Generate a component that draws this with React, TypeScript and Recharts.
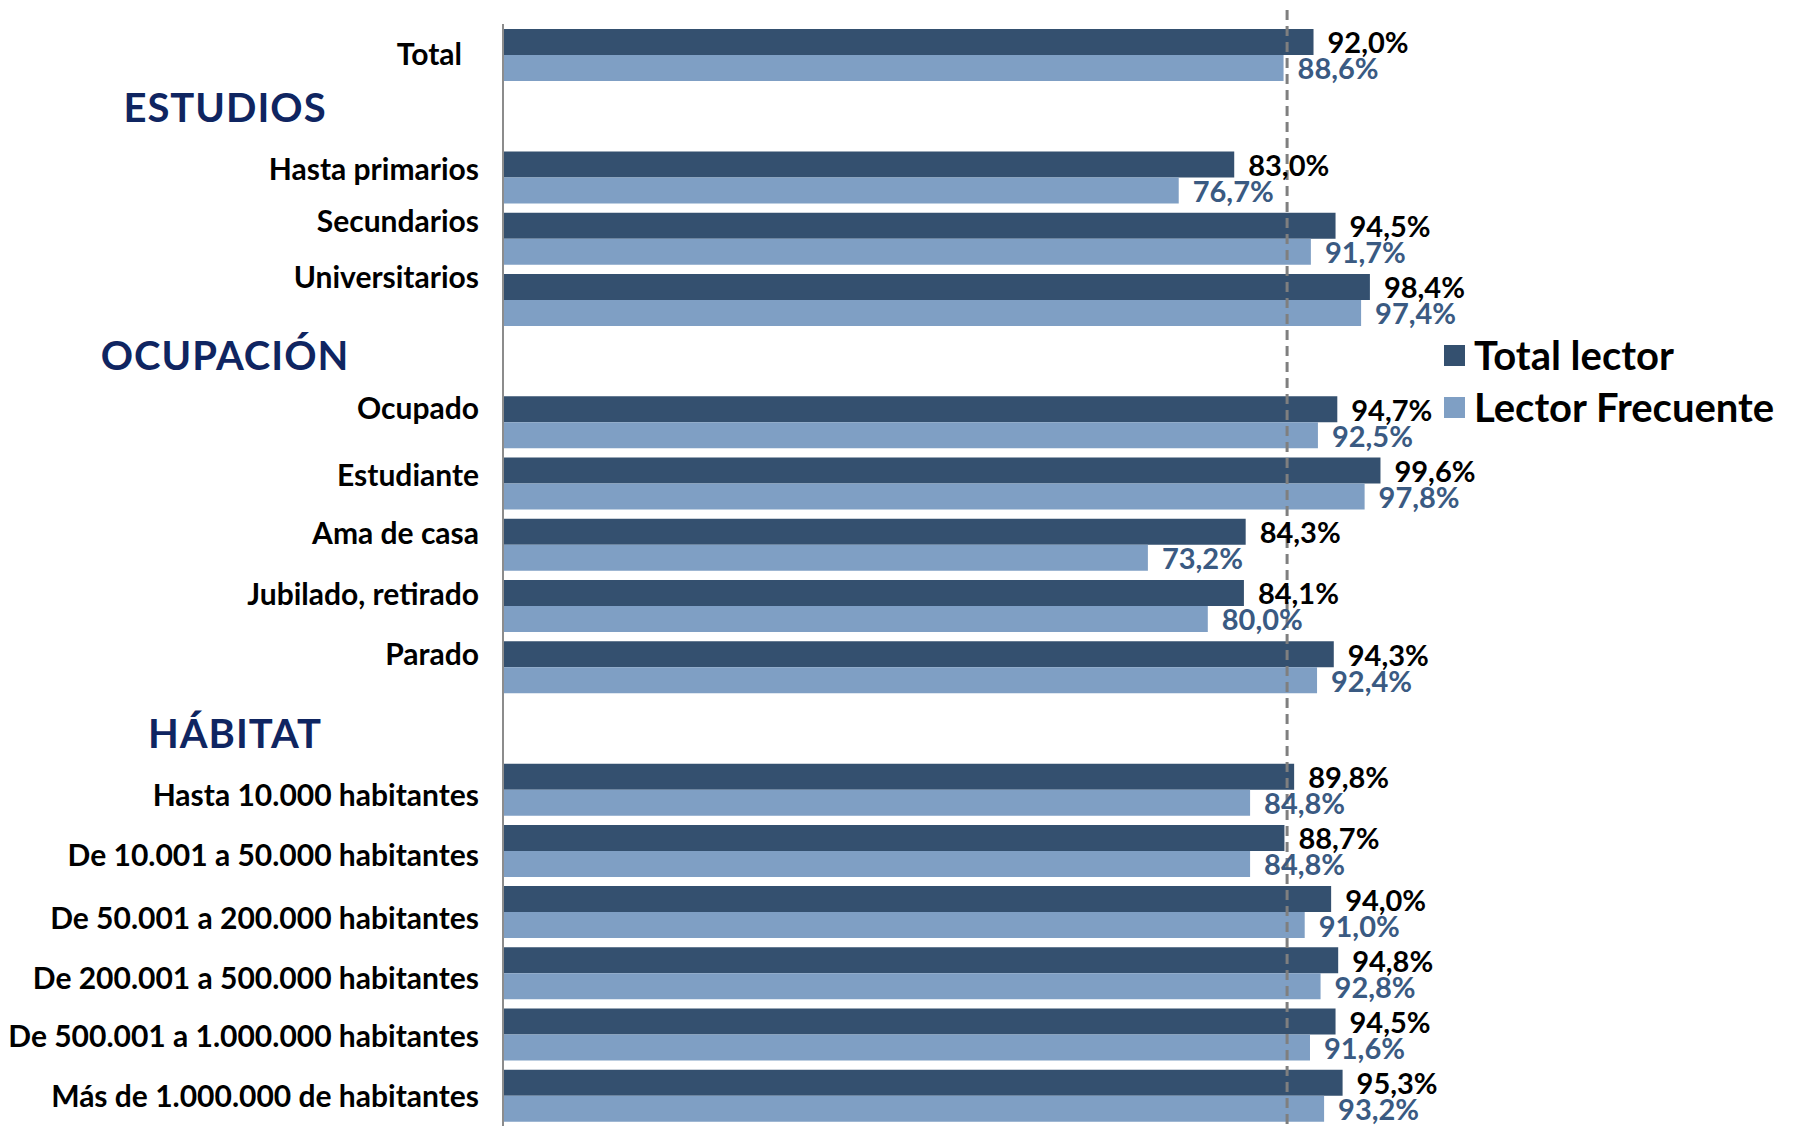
import React from 'react';
import { BarChart, Bar, XAxis, YAxis, ReferenceLine, LabelList } from 'recharts';

const categories = [
  'Total',
  'ESTUDIOS',
  'Hasta primarios',
  'Secundarios',
  'Universitarios',
  'OCUPACIÓN',
  'Ocupado',
  'Estudiante',
  'Ama de casa',
  'Jubilado, retirado',
  'Parado',
  'HÁBITAT',
  'Hasta 10.000 habitantes',
  'De 10.001 a 50.000 habitantes',
  'De 50.001 a 200.000 habitantes',
  'De 200.001 a 500.000 habitantes',
  'De 500.001 a 1.000.000 habitantes',
  'Más de 1.000.000 de habitantes',
];

const headers = ['ESTUDIOS', 'OCUPACIÓN', 'HÁBITAT'];

const totalLector = [92.0, null, 83.0, 94.5, 98.4, null, 94.7, 99.6, 84.3, 84.1, 94.3, null, 89.8, 88.7, 94.0, 94.8, 94.5, 95.3];
const lectorFrecuente = [88.6, null, 76.7, 91.7, 97.4, null, 92.5, 97.8, 73.2, 80.0, 92.4, null, 84.8, 84.8, 91.0, 92.8, 91.6, 93.2];

const referenceValue = 89.0;

const seriesNames = ['Total lector', 'Lector Frecuente'];

// styling
const DARK = '#34506F';
const LIGHT = '#7F9FC4';
const LIGHT_TEXT = '#3A5A82';
const NAVY = '#0F2561';
const FONT = 'Lato, "Open Sans", sans-serif';

// visual nudges of the axis labels (as laid out in the original slide)
const labelNudge: Record<string, { dx?: number; dy?: number }> = {
  'Total': { dx: -17, dy: 0 },
  'ESTUDIOS': { dy: -8 },
  'Hasta primarios': { dy: -8 },
  'Secundarios': { dy: -17 },
  'Universitarios': { dy: -22 },
  'OCUPACIÓN': { dy: -5 },
  'Ocupado': { dy: -14 },
  'Estudiante': { dy: -8 },
  'Ama de casa': { dy: -11 },
  'Jubilado, retirado': { dy: -11 },
  'Parado': { dy: -13 },
  'HÁBITAT': { dx: 10, dy: 6 },
  'Hasta 10.000 habitantes': { dy: 6 },
  'De 10.001 a 50.000 habitantes': { dy: 5 },
  'De 50.001 a 200.000 habitantes': { dy: 6 },
  'De 200.001 a 500.000 habitantes': { dy: 5 },
  'De 500.001 a 1.000.000 habitantes': { dy: 2 },
  'Más de 1.000.000 de habitantes': { dy: 1 },
};

const data = categories.map((name, i) => ({
  name,
  total: totalLector[i],
  frecuente: lectorFrecuente[i],
}));

const fmt = (v: any) => (v == null ? '' : Number(v).toFixed(1).replace('.', ',') + '%');

const CategoryTick = (props: any) => {
  const { x, y, payload } = props;
  const name = payload.value as string;
  const n = labelNudge[name] || {};
  if (headers.includes(name)) {
    return (
      <text
        x={225 + (n.dx || 0)}
        y={y + (n.dy || 0)}
        dy="0.36em"
        textAnchor="middle"
        fill={NAVY}
        fontFamily={FONT}
        fontWeight={700}
        fontSize={40}
        letterSpacing={1}
      >
        {name}
      </text>
    );
  }
  return (
    <text
      x={x - 24 + (n.dx || 0)}
      y={y + (n.dy || 0)}
      dy="0.36em"
      textAnchor="end"
      fill="#000"
      fontFamily={FONT}
      fontWeight={700}
      fontSize={30}
    >
      {name}
    </text>
  );
};

const makeValueLabel = (color: string, shift: number) => (props: any) => {
  const { x, y, width, height, value } = props;
  if (value == null) return null;
  return (
    <text
      x={x + width + 14}
      y={y + height / 2 + shift}
      dy="0.36em"
      textAnchor="start"
      fill={color}
      fontFamily={FONT}
      fontWeight={700}
      fontSize={29}
    >
      {fmt(value)}
    </text>
  );
};

const DashedShape = (props: any) => {
  const { x1, y1, x2, y2 } = props;
  return (
    <line
      x1={x1}
      y1={Math.min(y1, y2) - 14}
      x2={x2}
      y2={Math.max(y1, y2)}
      stroke="#7F7F7F"
      strokeWidth={3}
      strokeDasharray="10 6"
    />
  );
};

const ChartLegend = () => {
  const colors = [DARK, LIGHT];
  return (
    <div
      style={{
        position: 'absolute',
        left: 1444,
        top: 329,
        fontFamily: FONT,
        fontWeight: 700,
        fontSize: 40,
        color: '#000',
        lineHeight: 1,
      }}
    >
      {seriesNames.map((s, i) => (
        <div key={s} style={{ display: 'flex', alignItems: 'center', height: 52, whiteSpace: 'nowrap' }}>
          <span style={{ display: 'inline-block', width: 21, height: 21, background: colors[i], marginRight: 9 }} />
          <span>{s}</span>
        </div>
      ))}
    </div>
  );
};

export default function App() {
  return (
    <div style={{ position: 'absolute', left: 0, top: 0, width: 1794, height: 1126, background: '#fff' }}>
      <BarChart
        width={1794}
        height={1126}
        data={data}
        layout="vertical"
        margin={{ top: 24, right: 410, bottom: 0, left: 0 }}
        barGap={0}
        barSize={26}
      >
        <XAxis type="number" domain={[0, 100]} hide />
        <YAxis
          type="category"
          dataKey="name"
          width={503}
          axisLine={{ stroke: '#8C8C8C', strokeWidth: 2 }}
          tickLine={false}
          tickSize={0}
          tickMargin={0}
          interval={0}
          tick={<CategoryTick />}
        />
        <Bar dataKey="total" name={seriesNames[0]} fill={DARK} isAnimationActive={false}>
          <LabelList dataKey="total" content={makeValueLabel('#000', 1)} />
        </Bar>
        <Bar dataKey="frecuente" name={seriesNames[1]} fill={LIGHT} isAnimationActive={false}>
          <LabelList dataKey="frecuente" content={makeValueLabel(LIGHT_TEXT, 1)} />
        </Bar>
        <ReferenceLine x={referenceValue} shape={<DashedShape />} ifOverflow="visible" />
      </BarChart>
      <ChartLegend />
    </div>
  );
}
